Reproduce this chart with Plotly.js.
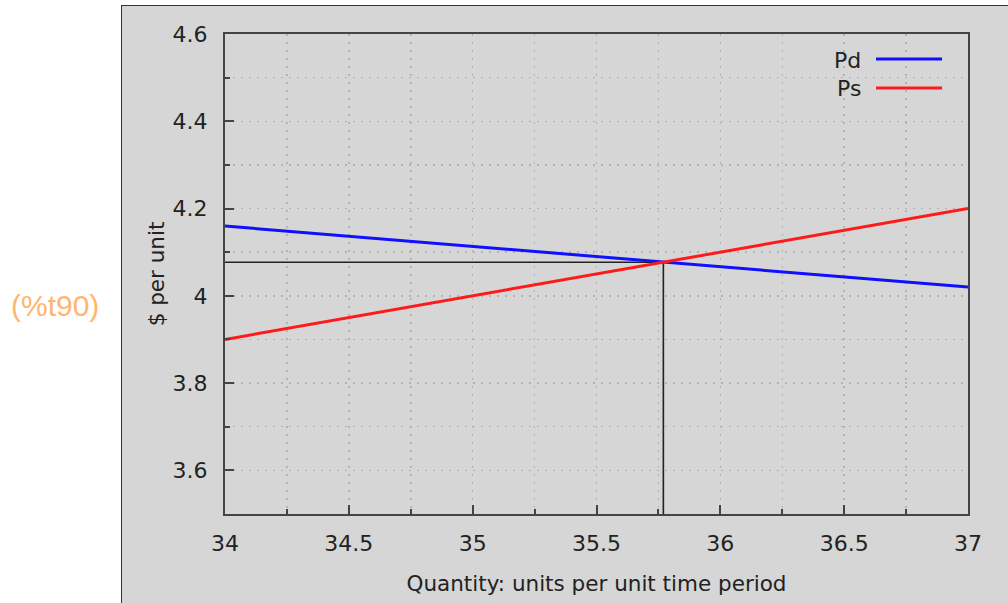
<!DOCTYPE html>
<html>
<head>
<meta charset="utf-8">
<script src="https://cdn.plot.ly/plotly-3.0.1.min.js"></script>
<style>html,body{margin:0;padding:0;background:#fff;}#chart{width:1008px;height:603px;}</style>
</head>
<body>
<div id="chart"></div>
<script>
// Data
const quantity = [34, 37];
const Pd = [4.16, 4.02];
const Ps = [3.90, 4.20];
const guideQ = [34, 35.77, 35.77];
const guideP = [4.077, 4.077, 3.5];
const seriesNames = ['Pd', 'Ps'];
const xTitle = 'Quantity: units per unit time period';
const yTitle = '$ per unit';
const sideLabel = '(%t90)';

const FONT = 'DejaVu Sans, sans-serif';
const L = 225, R = 40, T = 34, B = 89, W = 1008, H = 603;
const pw = W - L - R, ph = H - T - B;
const px = x => (x - L) / pw;
const py = y => (H - B - y) / ph;

const traces = [
  {x: guideQ, y: guideP, mode: 'lines', line: {color: '#222', width: 1.6}, hoverinfo: 'skip', showlegend: false},
  {x: quantity, y: Pd, name: seriesNames[0], mode: 'lines', line: {color: '#1010ff', width: 3}, showlegend: false},
  {x: quantity, y: Ps, name: seriesNames[1], mode: 'lines', line: {color: '#ff1a1a', width: 3}, showlegend: false}
];

const GRID = '#b4b4b4';
const DASH = '2px,6px';

const axisCommon = {
  showline: true, mirror: true, linecolor: '#444', linewidth: 2,
  ticks: 'inside', ticklen: 9, tickwidth: 2, tickcolor: '#444',
  showgrid: true, gridcolor: GRID, griddash: DASH, gridwidth: 1.5,
  zeroline: false,
  tickfont: {family: FONT, size: 22, color: '#222'}
};

const layout = {
  width: W, height: H,
  margin: {l: L, r: R, t: T, b: B, pad: 0},
  paper_bgcolor: '#d6d6d6',
  plot_bgcolor: '#d6d6d6',
  showlegend: false,
  xaxis: Object.assign({}, axisCommon, {
    range: [34, 37], dtick: 0.5, tick0: 34,
    ticklabelstandoff: 9,
    minor: {dtick: 0.25, tick0: 34, ticks: 'inside', ticklen: 5, tickwidth: 2, tickcolor: '#444', showgrid: true, gridcolor: GRID, griddash: DASH, gridwidth: 1.5},
    title: {text: xTitle, font: {family: FONT, size: 21.5, color: '#222'}, standoff: 21}
  }),
  yaxis: Object.assign({}, axisCommon, {
    range: [3.5, 4.6], dtick: 0.2, tick0: 3.6,
    ticklabelstandoff: 11,
    minor: {dtick: 0.1, tick0: 3.5, ticks: 'inside', ticklen: 5, tickwidth: 2, tickcolor: '#444', showgrid: true, gridcolor: GRID, griddash: DASH, gridwidth: 1.5},
    title: {text: yTitle, font: {family: FONT, size: 21.5, color: '#222'}, standoff: 2}
  }),
  shapes: [
    // white strips outside the gray panel
    {type: 'rect', xref: 'paper', yref: 'paper', x0: px(-5), x1: px(121), y0: py(-5), y1: py(610), fillcolor: '#ffffff', line: {width: 0}, layer: 'below'},
    {type: 'rect', xref: 'paper', yref: 'paper', x0: px(121), x1: px(1015), y0: py(-5), y1: py(5), fillcolor: '#ffffff', line: {width: 0}, layer: 'below'},
    // panel border
    {type: 'line', xref: 'paper', yref: 'paper', x0: px(121.5), x1: px(121.5), y0: py(5), y1: py(610), line: {color: '#333', width: 1}},
    {type: 'line', xref: 'paper', yref: 'paper', x0: px(121.5), x1: px(1015), y0: py(5.5), y1: py(5.5), line: {color: '#333', width: 1}},
    // legend samples
    {type: 'line', xref: 'paper', yref: 'paper', x0: px(876), x1: px(942), y0: py(59), y1: py(59), line: {color: '#1010ff', width: 3}},
    {type: 'line', xref: 'paper', yref: 'paper', x0: px(876), x1: px(942), y0: py(88), y1: py(88), line: {color: '#ff1a1a', width: 3}}
  ],
  annotations: [
    {xref: 'paper', yref: 'paper', x: px(863), y: py(60), xanchor: 'right', yanchor: 'middle', text: seriesNames[0], showarrow: false, font: {family: FONT, size: 22, color: '#222'}},
    {xref: 'paper', yref: 'paper', x: px(863), y: py(88), xanchor: 'right', yanchor: 'middle', text: seriesNames[1], showarrow: false, font: {family: FONT, size: 22, color: '#222'}},
    {xref: 'paper', yref: 'paper', x: px(55), y: py(305), xanchor: 'center', yanchor: 'middle', text: sideLabel, showarrow: false, font: {family: 'Liberation Sans, Arial, sans-serif', size: 30, color: '#ffb570'}}
  ]
};

Plotly.newPlot('chart', traces, layout, {displayModeBar: false, staticPlot: true});
</script>
</body>
</html>
